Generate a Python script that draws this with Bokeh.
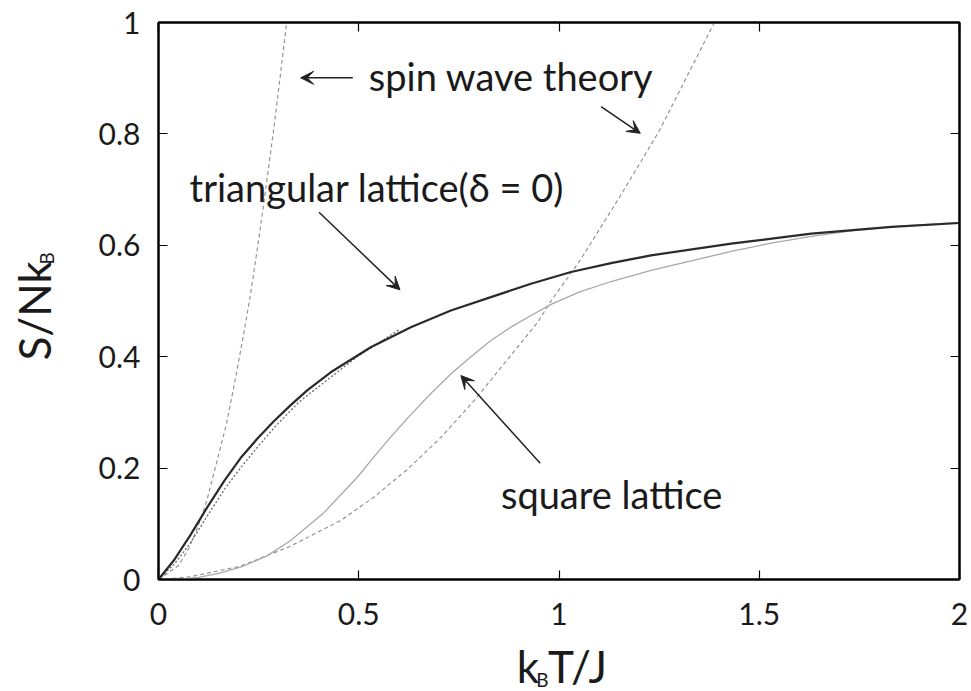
import math
from bokeh.plotting import figure
from bokeh.layouts import row, column
from bokeh.models import (Range1d, LinearAxis, FixedTicker, Label, Arrow, VeeHead)
from bokeh.embed import file_html
from bokeh.resources import INLINE

# ---- data ----
tri_T = [0, 0.038, 0.08, 0.122, 0.165, 0.205, 0.247, 0.288, 0.33, 0.372, 0.43, 0.53, 0.63, 0.73,
         0.83, 0.93, 1.03, 1.13, 1.23, 1.43, 1.63, 1.83, 2.0]
tri_S = [0, 0.034, 0.08, 0.130, 0.178, 0.218, 0.253, 0.284, 0.313, 0.340, 0.372, 0.417, 0.453, 0.483,
         0.507, 0.531, 0.552, 0.568, 0.582, 0.603, 0.621, 0.633, 0.640]

tri2_T = [0, 0.04, 0.08, 0.12, 0.1675, 0.21, 0.25, 0.288, 0.35, 0.41, 0.5, 0.6]
tri2_S = [0, 0.028, 0.066, 0.112, 0.165, 0.205, 0.240, 0.272, 0.318, 0.352, 0.402, 0.448]

sq_T = [0.05, 0.1, 0.15, 0.205, 0.27, 0.33, 0.413, 0.497, 0.54, 0.58, 0.63, 0.68, 0.73, 0.78, 0.83,
        0.88, 0.93, 0.98, 1.05, 1.13, 1.23, 1.33, 1.43, 1.53, 1.63, 1.73, 1.86, 2.0]
sq_S = [0, 0.004, 0.011, 0.022, 0.042, 0.07, 0.12, 0.184, 0.222, 0.256, 0.296, 0.334, 0.369, 0.400,
        0.429, 0.453, 0.474, 0.494, 0.516, 0.535, 0.555, 0.572, 0.589, 0.604, 0.616, 0.626, 0.635, 0.641]

swt_T = [0, 0.05, 0.075, 0.097, 0.12, 0.147, 0.17, 0.19, 0.21, 0.23, 0.25, 0.263, 0.288, 0.305, 0.32]
swt_S = [0, 0.025, 0.055, 0.092, 0.14, 0.215, 0.28, 0.353, 0.43, 0.513, 0.61, 0.676, 0.81, 0.91, 1.0]

sws_T = [0, 0.08, 0.205, 0.33, 0.455, 0.538, 0.622, 0.705, 0.788, 0.832, 0.947, 0.98, 1.05, 1.15, 1.25, 1.388]
sws_S = [0, 0.005, 0.024, 0.060, 0.106, 0.148, 0.198, 0.255, 0.321, 0.36, 0.462, 0.50, 0.57, 0.685, 0.805, 1.0]

x_ticks = [0, 0.5, 1, 1.5, 2]
x_tick_labels = ["0", "0.5", "1", "1.5", "2"]
y_ticks = [0, 0.2, 0.4, 0.6, 0.8, 1]
y_tick_labels = ["0", "0.2", "0.4", "0.6", "0.8", "1"]

FONT = "Lato"
TXT = "#1a1a1a"
BASE_SHIFT = 0.37   # rendered baseline sits this many em below the label anchor

# canvas layout: left strip (y title) 70px, main plot 901x640, bottom strip (x title) 901x51
LEFT_W = 70
MAIN_H = 640
PLOT_PX_H = 557.0
XSTRIP_OFFSET = 110  # observed horizontal offset of the bottom strip's coordinates

p = figure(width=971 - LEFT_W, height=MAIN_H, output_backend="svg", toolbar_location=None,
           x_range=Range1d(0, 2), y_range=Range1d(0, 1),
           min_border_left=158 - LEFT_W, min_border_right=12, min_border_top=22,
           min_border_bottom=MAIN_H - 579,
           x_axis_location=None, y_axis_location=None)
p.grid.visible = False
p.background_fill_color = "white"
p.border_fill_color = "white"
p.outline_line_color = "black"
p.outline_line_width = 2

def style_axis(ax, ticks, labels, show_labels, standoff):
    ax.ticker = FixedTicker(ticks=ticks)
    ax.minor_tick_line_color = None
    ax.major_tick_in = 9
    ax.major_tick_out = 0
    ax.major_tick_line_color = "black"
    ax.major_tick_line_width = 1.2
    ax.axis_line_color = "black"
    ax.axis_line_width = 2
    ax.major_label_text_font = FONT
    if show_labels:
        ax.major_label_overrides = {t: l for t, l in zip(ticks, labels)}
        ax.major_label_text_color = TXT
        ax.major_label_text_font_size = "30px"
        ax.major_label_standoff = standoff
    else:
        ax.major_label_text_color = None
        ax.major_label_text_font_size = "1px"
        ax.major_label_standoff = 0

xb = LinearAxis(); style_axis(xb, x_ticks, x_tick_labels, True, 23)
xt = LinearAxis(); style_axis(xt, x_ticks, x_tick_labels, False, 0)
yl = LinearAxis(); style_axis(yl, y_ticks, y_tick_labels, True, 18)
yr = LinearAxis(); style_axis(yr, y_ticks, y_tick_labels, False, 0)
p.add_layout(xb, "below")
p.add_layout(xt, "above")
p.add_layout(yl, "left")
p.add_layout(yr, "right")

# ---- curves ----
p.line(sws_T, sws_S, line_color="#8c8c8c", line_width=1.1, line_dash="4 3")
p.line(swt_T, swt_S, line_color="#8c8c8c", line_width=1.1, line_dash="4 3")
p.line(sq_T, sq_S, line_color="#a8a8a8", line_width=1.3)
p.line(tri2_T, tri2_S, line_color="#6a6a6a", line_width=1.3, line_dash="2 2")
p.line(tri_T, tri_S, line_color="#2a2a2a", line_width=2.2)

# ---- annotations ----
def lbl(fig, x, y, text, size, angle=0.0):
    fig.add_layout(Label(x=x, y=y, text=text, text_font=FONT, text_font_size=f"{size}px",
                         text_color=TXT, text_align="left", text_baseline="alphabetic",
                         angle=angle))

def plot_lbl(x, y_base, text, size):
    lbl(p, x, y_base + BASE_SHIFT * size / PLOT_PX_H, text, size)

plot_lbl(0.525, 0.878, "spin wave theory", 38)
plot_lbl(0.0775, 0.680, "triangular lattice(δ = 0)", 38)
plot_lbl(0.855, 0.129, "square lattice", 38)

def arr(x0, y0, x1, y1):
    p.add_layout(Arrow(x_start=x0, y_start=y0, x_end=x1, y_end=y1,
                       line_color="#222222", line_width=1.5,
                       end=VeeHead(size=13, fill_color="#222222", line_color="#222222")))

arr(0.485, 0.9007, 0.355, 0.9007)
arr(1.105, 0.849, 1.203, 0.801)
arr(0.4008, 0.6594, 0.603, 0.520)
arr(0.953, 0.2088, 0.755, 0.3662)

# ---- title strips (pixel-unit figures so the titles sit outside the plot frame) ----
def strip(w, h):
    f = figure(width=w, height=h, output_backend="svg", toolbar_location=None,
               x_range=Range1d(0, w), y_range=Range1d(0, h),
               min_border=0, x_axis_location=None, y_axis_location=None)
    f.grid.visible = False
    f.outline_line_color = None
    f.background_fill_color = "white"
    f.border_fill_color = "white"
    return f

ystrip = strip(LEFT_W, 691)
lbl(ystrip, 50 - BASE_SHIFT * 44, 691 - 360, "S/Nk", 44, angle=math.pi / 2)
lbl(ystrip, 53 - BASE_SHIFT * 19, 691 - 264, "B", 19, angle=math.pi / 2)

xstrip = strip(971 - LEFT_W, 691 - MAIN_H)
lbl(xstrip, 513 - XSTRIP_OFFSET, 691 - 682 + BASE_SHIFT * 44, "k", 44)
lbl(xstrip, 535 - XSTRIP_OFFSET, 691 - 686 + BASE_SHIFT * 19, "B", 19)
lbl(xstrip, 548 - XSTRIP_OFFSET, 691 - 682 + BASE_SHIFT * 44, "T/J", 44)

layout = row(ystrip, column(p, xstrip, spacing=0), spacing=0)

open("out.html", "w").write(file_html(layout, INLINE))
